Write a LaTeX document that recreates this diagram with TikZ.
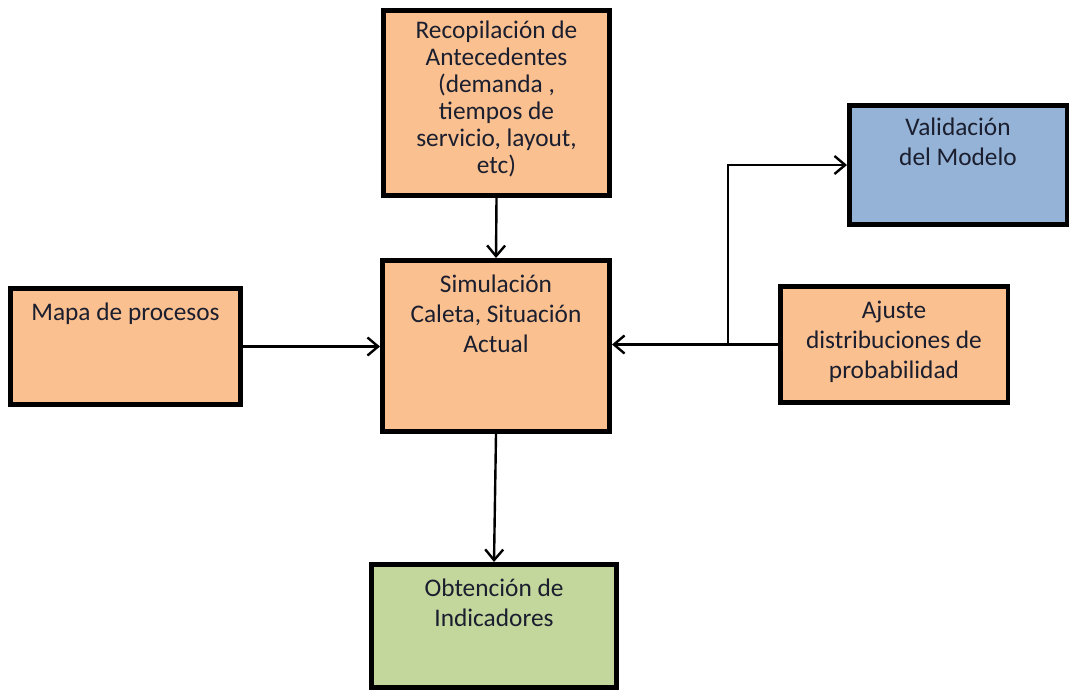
\documentclass[tikz,border=0pt]{standalone}
\usepackage{fontspec}
\setmainfont{Carlito}
\usetikzlibrary{arrows.meta,calc}
\definecolor{orangefill}{HTML}{FAC090}
\definecolor{bluefill}{HTML}{95B3D7}
\definecolor{greenfill}{HTML}{C3D69B}
\definecolor{txtcol}{HTML}{1A1E2E}
\begin{document}
\begin{tikzpicture}[x=0.75pt,y=-0.75pt,
  box/.style={draw=black, line width=3.4pt, rectangle, inner sep=0pt},
  txt/.style={anchor=north, align=center, inner sep=0pt, text=txtcol,
    font=\fontsize{19pt}{22.5pt}\selectfont},
  conn/.style={draw=black, line width=1.8pt, -{Straight Barb[length=8pt,width=13.5pt,line width=1.8pt]}},
  plain/.style={draw=black, line width=1.8pt}
]
\useasboundingbox (0,0) rectangle (1069,692);
% boxes
\node[box, fill=orangefill, minimum width={226.5*0.75pt}, minimum height={185.5*0.75pt}] (recop) at (496.5,103) {};
\node[box, fill=orangefill, minimum width={227.5*0.75pt}, minimum height={171.5*0.75pt}] (sim) at (496,346) {};
\node[box, fill=orangefill, minimum width={230.5*0.75pt}, minimum height={116.5*0.75pt}] (mapa) at (125.5,346.5) {};
\node[box, fill=bluefill, minimum width={217.5*0.75pt}, minimum height={119.5*0.75pt}] (val) at (958,165) {};
\node[box, fill=orangefill, minimum width={227.5*0.75pt}, minimum height={116.5*0.75pt}] (aj) at (894,344.5) {};
\node[box, fill=greenfill, minimum width={245.5*0.75pt}, minimum height={123.5*0.75pt}] (obt) at (494,626) {};
% texts
\node[txt, font=\fontsize{19pt}{20.25pt}\selectfont] (recopt) at ([yshift=-9.5pt]recop.north) {Recopilación de\\Antecedentes\\(demanda ,\\tiempos de\\servicio, layout,\\etc)};
\node[txt] (simt) at ([yshift=-12.5pt]sim.north) {Simulación\\Caleta, Situación\\Actual};
\node[txt] (mapat) at ([yshift=-12.5pt]mapa.north) {Mapa de procesos};
\node[txt] (valt) at ([yshift=-11pt]val.north) {Validación\\del Modelo};
\node[txt] (ajt) at ([yshift=-12.5pt]aj.north) {Ajuste\\distribuciones de\\probabilidad};
\node[txt] (obtt) at ([yshift=-12.5pt]obt.north) {Obtención de\\Indicadores};
% connectors
\draw[conn] (recop.south) -- (sim.north);
\draw[conn] (mapa.east) -- (mapa.east -| sim.west);
\draw[conn] (aj.west) -- (aj.west -| sim.east);
\coordinate (br) at (728,344.5);
\draw[conn] (br) |- (val.west);
\draw[conn] (sim.south) -- (obt.north);
\end{tikzpicture}
\end{document}
